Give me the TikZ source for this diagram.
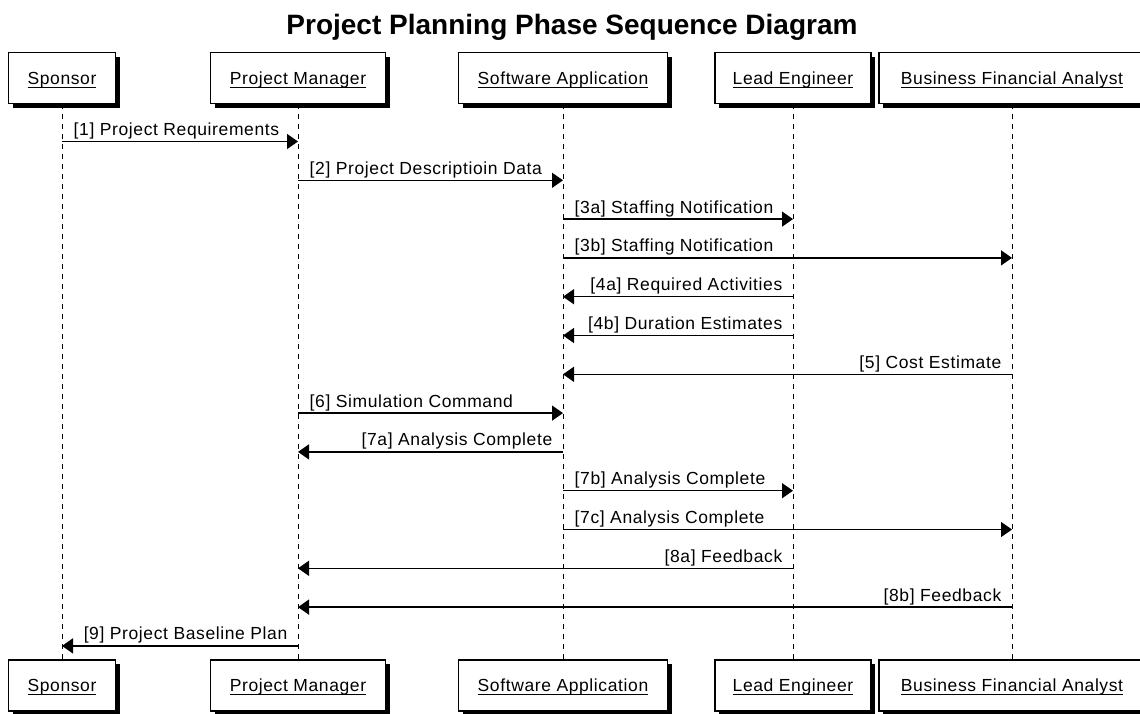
\documentclass[tikz,border=0pt]{standalone}
\usepackage{fontspec}
\setmainfont{Liberation Sans}[LetterSpace=3.5]
\newfontfamily\titlefont{Liberation Sans}
\usetikzlibrary{arrows.meta,shadows}
% underlined participant name, rule set a fixed distance below the baseline
\newcommand{\ulname}[1]{\setbox0\hbox{#1}\rlap{\rule[-3.4pt]{\wd0}{0.9pt}}\box0}
\begin{document}
\begin{tikzpicture}[x=1pt,y=-1pt,
  actor/.style={draw,line width=1.3pt,fill=white,minimum height=51pt,
    text height=13pt,text depth=1pt,inner xsep=0pt,
    font=\fontsize{17.5}{20}\selectfont,
    drop shadow={shadow xshift=4pt,shadow yshift=-4pt,fill=black,opacity=1}},
  life/.style={line width=1pt,dash pattern=on 5pt off 5pt},
  msg/.style={line width=1.4pt,-{Triangle[length=11pt,width=15pt]}},
  lbl/.style={inner sep=0pt,font=\fontsize{17.5}{20}\selectfont},
  rlbl/.style={lbl,pos=0,anchor=base west,xshift=11pt,yshift=6pt},
  llbl/.style={lbl,pos=0,anchor=base east,xshift=-10pt,yshift=6pt},
]
\useasboundingbox (0,0) rectangle (1140,713);

% title
\node[font=\titlefont\bfseries\fontsize{28}{32}\selectfont,anchor=base,inner sep=0pt]
  (title) at (572,34.5) {Project Planning Phase Sequence Diagram};

% participants, top row
\node[actor,minimum width=107pt] (spT)  at (62,78)   {\ulname{Sponsor}};
\node[actor,minimum width=175pt] (pmT)  at (298,78)  {\ulname{Project Manager}};
\node[actor,minimum width=209pt] (saT)  at (563,78)  {\ulname{Software Application}};
\node[actor,minimum width=156pt] (leT)  at (793,78)  {\ulname{Lead Engineer}};
\node[actor,minimum width=266pt] (bfT)  at (1012,78) {\ulname{Business Financial Analyst}};

% participants, bottom row
\node[actor,minimum width=107pt] (spB)  at (62,685.5)   {\ulname{Sponsor}};
\node[actor,minimum width=175pt] (pmB)  at (298,685.5)  {\ulname{Project Manager}};
\node[actor,minimum width=209pt] (saB)  at (563,685.5)  {\ulname{Software Application}};
\node[actor,minimum width=156pt] (leB)  at (793,685.5)  {\ulname{Lead Engineer}};
\node[actor,minimum width=266pt] (bfB)  at (1012,685.5) {\ulname{Business Financial Analyst}};

% lifelines
\foreach \p in {sp,pm,sa,le,bf}
  \draw[life] (\p T.south) -- (\p B.north);

% message rows
\foreach \i/\y in {1/141.5,2/180.3,3/219.1,4/257.9,5/296.7,6/335.5,7/374.3,
                   8/413.1,9/451.9,10/490.7,11/529.5,12/568.3,13/607.1,14/645.9}
  \coordinate (m\i) at (0,\y);

% messages
\draw[msg] (spT |- m1)  -- (pmT |- m1)  node[rlbl] {[1] Project Requirements};
\draw[msg] (pmT |- m2)  -- (saT |- m2)  node[rlbl] {[2] Project Descriptioin Data};
\draw[msg] (saT |- m3)  -- (leT |- m3)  node[rlbl] {[3a] Staffing Notification};
\draw[msg] (saT |- m4)  -- (bfT |- m4)  node[rlbl] {[3b] Staffing Notification};
\draw[msg] (leT |- m5)  -- (saT |- m5)  node[llbl] {[4a] Required Activities};
\draw[msg] (leT |- m6)  -- (saT |- m6)  node[llbl] {[4b] Duration Estimates};
\draw[msg] (bfT |- m7)  -- (saT |- m7)  node[llbl] {[5] Cost Estimate};
\draw[msg] (pmT |- m8)  -- (saT |- m8)  node[rlbl] {[6] Simulation Command};
\draw[msg] (saT |- m9)  -- (pmT |- m9)  node[llbl] {[7a] Analysis Complete};
\draw[msg] (saT |- m10) -- (leT |- m10) node[rlbl] {[7b] Analysis Complete};
\draw[msg] (saT |- m11) -- (bfT |- m11) node[rlbl] {[7c] Analysis Complete};
\draw[msg] (leT |- m12) -- (pmT |- m12) node[llbl] {[8a] Feedback};
\draw[msg] (bfT |- m13) -- (pmT |- m13) node[llbl] {[8b] Feedback};
\draw[msg] (pmT |- m14) -- (spT |- m14) node[llbl] {[9] Project Baseline Plan};
\end{tikzpicture}
\end{document}
